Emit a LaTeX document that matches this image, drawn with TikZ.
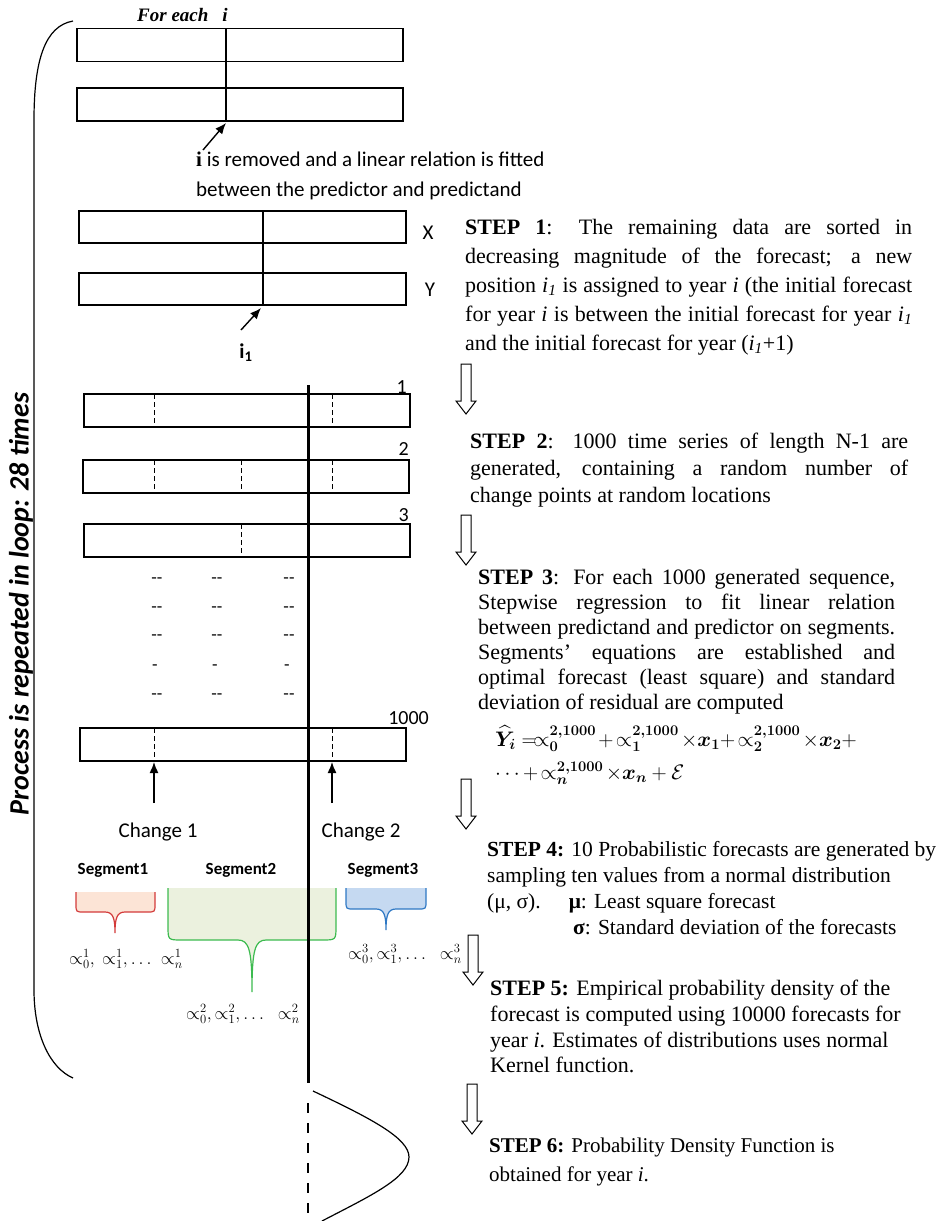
\RequirePackage{fix-cm}
\documentclass[tikz,border=0pt]{standalone}
\usepackage{amsmath}
\usepackage{bm}
\usepackage{fontspec}
\setmainfont{Liberation Serif}
\newfontfamily\calib{Carlito}
\usetikzlibrary{arrows.meta}
\definecolor{redline}{HTML}{D33A3A}
\definecolor{redfill}{HTML}{FCE4D6}
\definecolor{greenline}{HTML}{3DBB50}
\definecolor{greenfill}{HTML}{EBF1DE}
\definecolor{blueline}{HTML}{2E78C4}
\definecolor{bluefill}{HTML}{C5D9F1}
\tikzset{hollow/.pic={\draw[line width=1pt, fill=white] (-5,0) -- (-5,37) -- (-10,37) -- (0,50) -- (10,37) -- (5,37) -- (5,0) -- cycle;}}
\begin{document}
\begin{tikzpicture}[x=1pt,y=-1pt,
 box/.style={draw, line width=1.2pt, minimum width=326pt, minimum height=33pt, inner sep=0pt},
 sep/.style={line width=1pt, dash pattern=on 5pt off 3pt},
 cutline/.style={line width=1.2pt},
 stepnode/.style={anchor=north west, inner sep=0pt, align=left},
 cal/.style={font=\calib\fontsize{21}{25}\selectfont, inner sep=0pt},
 num/.style={font=\calib\fontsize{20}{24}\selectfont, inner sep=0pt},
 seglbl/.style={font=\calib\bfseries\fontsize{17}{20}\selectfont, inner sep=0pt},
 alph/.style={font=\fontsize{18}{22}\selectfont, inner sep=0pt, anchor=base},
 conn/.style={line width=1.4pt, -{Latex[length=11pt,width=9pt]}},
 dashtxt/.style={font=\calib\fontsize{18}{20}\selectfont, inner sep=0pt},
]
\useasboundingbox (0,0) rectangle (943,1221);

% loop bracket
\draw[line width=1.2pt] (73,21) .. controls (45,26) and (34,60) .. (34,120) -- (34,990) .. controls (34,1035) and (50,1068) .. (73,1078);
\node[rotate=90, font=\calib\bfseries\itshape\fontsize{28}{32}\selectfont, inner sep=0pt] (loop) at (21,604) {Process is repeated in loop: 28 times};

% top part
\node[font=\bfseries\itshape\fontsize{19}{22}\selectfont, inner sep=0pt, anchor=base west] (foreach) at (137,21) {For each\hspace{14pt}i};
\node[box] (A) at (240,45) {};
\node[box] (B) at (240,104.5) {};
\draw[cutline] (226,29) -- (226,121);
\node[cal, anchor=base west] (rem1) at (196,166) {{\rmfamily\bfseries i} is removed and a linear relation is fitted};
\node[cal, anchor=base west] (rem2) at (196,196) {between the predictor and predictand};
\coordinate (itail) at (203,150);
\coordinate (ihead) at (226,123);
\draw[conn] (itail) -- (ihead);

\node[box, minimum width=327pt, minimum height=32pt] (X) at (242.5,227) {};
\node[box, minimum width=327pt, minimum height=32pt] (Y) at (242.5,289) {};
\draw[cutline] (263,211) -- (263,305);
\node[cal, anchor=base] (xl) at (428,239) {X};
\node[cal, anchor=base] (yl) at (430,296) {Y};
\coordinate (i1tail) at (241,330);
\coordinate (i1head) at (261,308);
\draw[conn] (i1tail) -- (i1head);
\node[font=\calib\bfseries\fontsize{21}{25}\selectfont, inner sep=0pt, anchor=base] (i1) at (246,358) {i\textsubscript{1}};

% step texts
\node[stepnode, font=\fontsize{22}{29}\selectfont] (step1) at (465,219) {%
\makebox[447pt][s]{\textbf{STEP 1}: The remaining data are sorted in}\\
\makebox[447pt][s]{decreasing magnitude of the forecast; a new}\\
\makebox[447pt][s]{position \textit{i\textsubscript{1}} is assigned to year \textit{i} (the initial forecast}\\
\makebox[447pt][s]{for year \textit{i} is between the initial forecast for year \textit{i\textsubscript{1}}}\\
and the initial forecast for year (\textit{i\textsubscript{1}}+1)};

\node[stepnode, font=\fontsize{22}{27}\selectfont] (step2) at (470,433) {%
\makebox[438pt][s]{\textbf{STEP 2}: 1000 time series of length N-1 are}\\
\makebox[438pt][s]{generated, containing a random number of}\\
change points at random locations};

\node[stepnode, font=\fontsize{22}{25}\selectfont] (step3) at (478,569) {%
\makebox[417pt][s]{\textbf{STEP 3}: For each 1000 generated sequence,}\\
\makebox[417pt][s]{Stepwise regression to fit linear relation}\\
\makebox[417pt][s]{between predictand and predictor on segments.}\\
\makebox[417pt][s]{Segments’ equations are established and}\\
\makebox[417pt][s]{optimal forecast (least square) and standard}\\
deviation of residual are computed};

\node[font=\fontsize{21}{24}\selectfont, inner sep=0pt, anchor=base west] (f1) at (495,746)
{$\widehat{\bm{Y}}_{\bm{i}} =\!\propto_{\bm{0}}^{\bm{2,1000}}\!+\!\propto_{\bm{1}}^{\bm{2,1000}}\!\times \bm{x_1} +\!\propto_{\bm{2}}^{\bm{2,1000}}\!\times \bm{x_2} +$};
\node[font=\fontsize{21}{24}\selectfont, inner sep=0pt, anchor=base west] (f2) at (495,779)
{$\cdots +\!\propto_{\bm{n}}^{\bm{2,1000}}\!\times \bm{x_n} +\mathcal{E}$};

\node[stepnode, font=\fontsize{21.5}{26}\selectfont] (step4) at (487,841) {%
\textbf{STEP 4:} 10 Probabilistic forecasts are generated by\\
sampling ten values from a normal distribution\\
(μ, σ).\hspace{28pt}\textbf{μ}: Least square forecast\\
\hspace*{86pt}\textbf{σ}: Standard deviation of the forecasts};

\node[stepnode, font=\fontsize{22}{25.7}\selectfont] (step5) at (490,980) {%
\textbf{STEP 5:} Empirical probability density of the\\
forecast is computed using 10000 forecasts for\\
year \textit{i}. Estimates of distributions uses normal\\
Kernel function.};

\node[stepnode, font=\fontsize{21}{29}\selectfont] (step6) at (489,1138) {%
\textbf{STEP 6:} Probability Density Function is\\
obtained for year \textit{i}.};

% hollow arrows
\pic at (466,364) {hollow};
\pic at (466,515) {hollow};
\pic at (466,779) {hollow};
\pic at (473,935) {hollow};
\pic at (472,1084) {hollow};

% series boxes
\node[box] (S1) at (247,410.5) {};
\draw[sep] (154,394) -- (154,427);
\draw[sep] (332,394) -- (332,427);
\node[num, anchor=base east] (n1) at (407,393) {1};
\node[box] (S2) at (246,476.5) {};
\draw[sep] (154,460) -- (154,493);
\draw[sep] (241,460) -- (241,493);
\draw[sep] (332,460) -- (332,493);
\node[num, anchor=base east] (n2) at (409,455) {2};
\node[box] (S3) at (247,540.5) {};
\draw[sep] (241,524) -- (241,557);
\node[num, anchor=base east] (n3) at (409,521) {3};

\foreach \r/\yy in {1/581,2/610,3/638,5/697}{
  \node[dashtxt] (da\r) at (157,\yy) {\mbox{-}\mbox{-}};
  \node[dashtxt] (db\r) at (217,\yy) {\mbox{-}\mbox{-}};
  \node[dashtxt] (dc\r) at (289,\yy) {\mbox{-}\mbox{-}};
}
\node[dashtxt] (da4) at (155,668) {-};
\node[dashtxt] (db4) at (215,668) {-};
\node[dashtxt] (dc4) at (287,668) {-};

\node[box] (S4) at (243,744.5) {};
\draw[sep] (154,728) -- (154,761);
\draw[sep] (332,728) -- (332,761);
\node[num, anchor=base east] (n4) at (429,724) {1000};

\coordinate (c1tail) at (154,803);
\coordinate (c1head) at (154,762);
\coordinate (c2tail) at (332,803);
\coordinate (c2head) at (332,762);
\draw[conn] (c1tail) -- (c1head);
\draw[conn] (c2tail) -- (c2head);
\node[cal, anchor=base] (ch1) at (158,837) {Change 1};
\node[cal, anchor=base] (ch2) at (361,837) {Change 2};

\node[seglbl, anchor=base] (sg1) at (113,874) {Segment1};
\node[seglbl, anchor=base] (sg2) at (241,874) {Segment2};
\node[seglbl, anchor=base] (sg3) at (383,874) {Segment3};

% callouts
\fill[redfill] (76,892) -- (76,904) .. controls (76,912) .. (84,912) -- (105,912) .. controls (113,912) and (115,918) .. (115,933) .. controls (115,918) and (117,912) .. (125,912) -- (147,912) .. controls (155,912) .. (155,904) -- (155,892) -- cycle;
\draw[redline, line width=1.2pt] (76,892) -- (76,904) .. controls (76,912) .. (84,912) -- (105,912) .. controls (113,912) and (115,918) .. (115,933) .. controls (115,918) and (117,912) .. (125,912) -- (147,912) .. controls (155,912) .. (155,904) -- (155,892);

\fill[greenfill] (168,888) -- (168,926) .. controls (168,940) .. (182,940) -- (238,940) .. controls (249,940) and (252,950) .. (252,992) .. controls (252,950) and (255,940) .. (266,940) -- (322,940) .. controls (336,940) .. (336,926) -- (336,888) -- cycle;
\draw[greenline, line width=1.2pt] (168,888) -- (168,926) .. controls (168,940) .. (182,940) -- (238,940) .. controls (249,940) and (252,950) .. (252,992) .. controls (252,950) and (255,940) .. (266,940) -- (322,940) .. controls (336,940) .. (336,926) -- (336,888);

\fill[bluefill] (346,888) -- (346,901) .. controls (346,909) .. (354,909) -- (376,909) .. controls (384,909) and (386,915) .. (386,930) .. controls (386,915) and (388,909) .. (396,909) -- (418,909) .. controls (426,909) .. (426,901) -- (426,888) -- cycle;
\draw[blueline, line width=1.2pt] (346,888) -- (346,901) .. controls (346,909) .. (354,909) -- (376,909) .. controls (384,909) and (386,915) .. (386,930) .. controls (386,915) and (388,909) .. (396,909) -- (418,909) .. controls (426,909) .. (426,901) -- (426,888);

\node[alph] (al1) at (126,964) {$\propto_0^1,\ \propto_1^1,\dots\ \propto_n^1$};
\node[alph] (al2) at (243,1019) {$\propto_0^2,\propto_1^2,\dots\ \ \propto_n^2$};
\node[alph] (al3) at (405,959) {$\propto_0^3,\propto_1^3,\dots\ \ \propto_n^3$};

% central line and pdf
\draw[line width=3pt] (308,385) -- (308,1083);
\draw[line width=1.2pt, dash pattern=on 10pt off 10pt] (308,1103) -- (308,1221);
\draw[line width=1.2pt] (313,1091) .. controls (370,1118) and (409,1138) .. (409,1157) .. controls (409,1178) and (370,1196) .. (322,1221);
\end{tikzpicture}
\end{document}
